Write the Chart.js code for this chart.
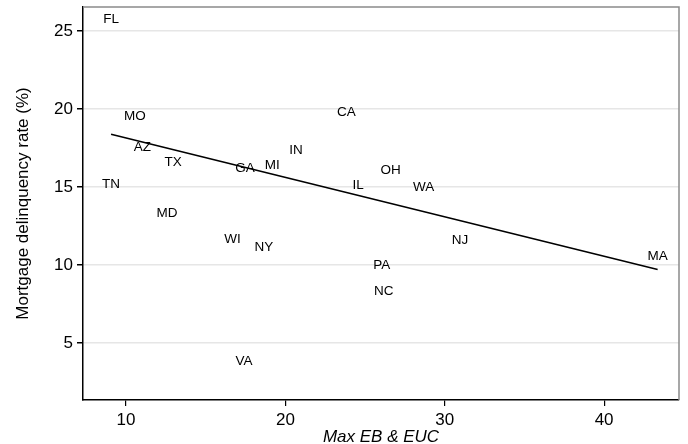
<!DOCTYPE html>
<html>
<head>
<meta charset="utf-8">
<title>Mortgage delinquency vs Max EB & EUC</title>
<script src="https://cdn.jsdelivr.net/npm/chart.js@4/dist/chart.umd.min.js"></script>
<style>
  html, body { margin: 0; padding: 0; background: #fff; }
  #wrap { width: 688px; height: 444px; position: relative; }
</style>
</head>
<body>
<div id="wrap"><canvas id="chart"></canvas></div>
<script>
// state labels and values
const states = ['FL', 'MO', 'AZ', 'TX', 'TN', 'MD', 'GA', 'MI', 'IN', 'CA',
                'OH', 'IL', 'WA', 'WI', 'NY', 'VA', 'NJ', 'PA', 'NC', 'MA'];
const maxEbEuc = [9.06, 10.56, 11.03, 12.95, 9.06, 12.57, 17.46, 19.18, 20.66, 23.82,
                  26.61, 24.56, 28.68, 16.68, 18.65, 17.40, 30.96, 26.05, 26.18, 43.36];
const delinquency = [25.77, 19.55, 17.58, 16.56, 15.17, 13.31, 16.20, 16.37, 17.37, 19.79,
                     16.09, 15.13, 14.96, 11.65, 11.17, 3.80, 11.60, 9.96, 8.35, 10.53];

// fitted line end points
const fitX = [9.06, 43.36];
const fitY = [18.38, 9.72];

const xTicks = [10, 20, 30, 40];
const yTicks = [5, 10, 15, 20, 25];

const FONT = "'Liberation Sans', Arial, Helvetica, sans-serif";

// draws each state code centred on its point
const stateLabels = {
  id: 'stateLabels',
  afterDatasetsDraw(chart) {
    const { ctx, scales: { x, y } } = chart;
    ctx.save();
    ctx.font = '13.5px ' + FONT;
    ctx.fillStyle = '#000';
    ctx.textAlign = 'center';
    ctx.textBaseline = 'middle';
    states.forEach((s, i) => {
      ctx.fillText(s, x.getPixelForValue(maxEbEuc[i]), y.getPixelForValue(delinquency[i]));
    });
    ctx.restore();
  }
};

// grey frame on top and right of the plot region
const plotFrame = {
  id: 'plotFrame',
  afterDraw(chart) {
    const { ctx, chartArea: a } = chart;
    ctx.save();
    ctx.strokeStyle = '#8a8a8a';
    ctx.lineWidth = 1.5;
    ctx.beginPath();
    ctx.moveTo(a.left, a.top);
    ctx.lineTo(a.right, a.top);
    ctx.lineTo(a.right, a.bottom);
    ctx.stroke();
    ctx.restore();
  }
};

new Chart(document.getElementById('chart'), {
  type: 'scatter',
  data: {
    datasets: [
      {
        label: 'States',
        data: states.map((s, i) => ({ x: maxEbEuc[i], y: delinquency[i] })),
        pointRadius: 0,
        pointHoverRadius: 0
      },
      {
        type: 'line',
        label: 'Fit',
        data: fitX.map((v, i) => ({ x: v, y: fitY[i] })),
        borderColor: '#000',
        borderWidth: 1.6,
        pointRadius: 0,
        fill: false
      }
    ]
  },
  options: {
    responsive: true,
    maintainAspectRatio: false,
    animation: false,
    layout: { padding: { left: 0, right: 9, top: 7, bottom: 0 } },
    plugins: { legend: { display: false }, tooltip: { enabled: false } },
    scales: {
      x: {
        type: 'linear',
        min: 7.3,
        max: 44.7,
        afterBuildTicks: s => { s.ticks = xTicks.map(v => ({ value: v })); },
        afterFit: s => { s.height = 44; s.paddingLeft = 0; s.paddingRight = 0; },
        border: { color: '#000', width: 1.5 },
        grid: { drawOnChartArea: false, tickColor: '#000', tickLength: 6, lineWidth: 1.2 },
        ticks: { color: '#000', padding: 4, font: { family: FONT, size: 17 }, maxRotation: 0 },
        title: {
          display: true,
          text: 'Max EB & EUC',
          color: '#000',
          font: { family: FONT, size: 17, style: 'italic', lineHeight: 1 },
          padding: { top: 0, bottom: -2 }
        }
      },
      y: {
        type: 'linear',
        min: 1.35,
        max: 26.54,
        afterBuildTicks: s => { s.ticks = yTicks.map(v => ({ value: v })); },
        afterFit: s => { s.width = 83; s.paddingTop = 0; s.paddingBottom = 0; },
        border: { color: '#000', width: 1.5 },
        grid: { color: '#e6e6e6', lineWidth: 1.5, tickColor: '#000', tickLength: 6 },
        ticks: { color: '#000', padding: 4, font: { family: FONT, size: 17 } },
        title: {
          display: true,
          text: 'Mortgage delinquency rate (%)',
          color: '#000',
          font: { family: FONT, size: 17, lineHeight: 1 },
          padding: { top: 14.5, bottom: 0 }
        }
      }
    }
  },
  plugins: [stateLabels, plotFrame]
});
</script>
</body>
</html>
